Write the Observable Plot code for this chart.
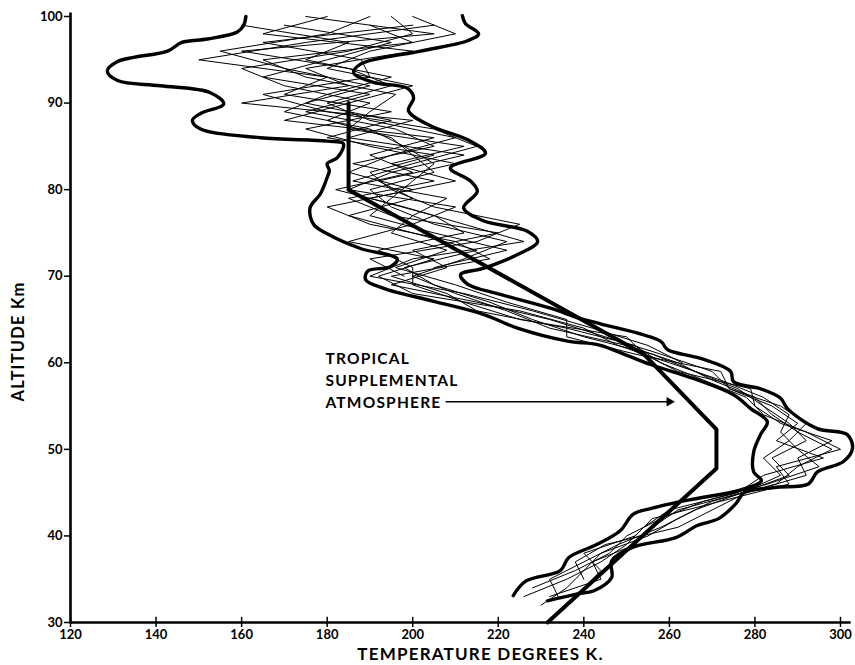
<!DOCTYPE html>
<html><head><meta charset="utf-8">
<script src="https://cdn.jsdelivr.net/npm/d3@7"></script>
<script src="https://cdn.jsdelivr.net/npm/@observablehq/plot@0.6"></script>
<style>
html,body{margin:0;padding:0;background:#fff;}
</style></head>
<body><div id="chart"></div>
<script>
// ---- tick labels & texts ----
const xTicks = [120, 140, 160, 180, 200, 220, 240, 260, 280, 300];
const yTicks = [30, 40, 50, 60, 70, 80, 90, 100];
const xLabel = "TEMPERATURE DEGREES K.";
const yLabel = "ALTITUDE Km";
const annotation = "TROPICAL\nSUPPLEMENTAL\nATMOSPHERE";
const annotationAt = [179.6, 58.1];     // temperature, altitude
const arrowFrom = [207.7, 55.5];
const arrowTo = [261.5, 55.5];

// ---- Tropical Supplemental Atmosphere ----
const stdAlt  = [30, 47.8, 52.3, 61, 80, 90];
const stdTemp = [231.5, 271, 271, 254, 185, 185];

// ---- envelope of all soundings (left / right boundary) ----
const leftEnvTemp = [161, 160.5, 159, 152, 146, 142.7, 135, 131, 128.6, 131, 141, 152.7, 155.8, 150.4, 148.5, 150.4, 164.4, 180, 183.8, 182.4, 180, 180.5, 180, 178.4, 176, 176.8, 180, 187.8, 196.4, 194.8, 189.5, 189, 193.2, 204.9, 216.5, 224.5, 236.2, 243.2, 247.9, 255.6, 265.6, 275, 279, 282.9, 281.3, 279.7, 279.7, 281.5, 276.5, 265, 256, 251.5, 248.5, 243, 236.5, 234.5, 226.5, 223.5];
const leftEnvAlt  = [100, 99, 98.2, 97.4, 97, 96, 95.3, 94.8, 93.7, 92.6, 92, 91.2, 89.9, 88.8, 88, 87, 86, 85.6, 85.3, 83.7, 83, 82.2, 81.4, 79.5, 77.9, 76, 74.9, 73.2, 72, 71.1, 70.6, 69.6, 68.6, 67.1, 65.6, 64, 62.5, 62.1, 61.3, 59.8, 58.2, 56.3, 54.7, 53.2, 51.7, 49.7, 47.4, 46.4, 45.3, 44.2, 43.2, 42.5, 40.6, 39, 37.5, 36, 34.8, 33.1];
const rightEnvTemp = [211.6, 212.3, 215.4, 212.8, 201.8, 187.8, 186.2, 190.8, 198.8, 200.2, 199, 204, 213.5, 217, 208.8, 213.5, 215.1, 211.9, 216.5, 226.8, 229.2, 224.5, 216.5, 211.2, 212.8, 220.5, 232.2, 239.2, 243.9, 257.9, 259.6, 267.3, 274.3, 275, 281.3, 286, 287.6, 294.6, 301.6, 302.8, 300.7, 294.6, 292.5, 284.5, 277.5, 275.5, 271.5, 266.5, 261.5, 251.5, 246.5, 246.5, 242.5, 238.5, 231.5];
const rightEnvAlt  = [100.1, 99.2, 98, 97.2, 96, 94.5, 93.5, 92.4, 91.7, 90.6, 89.1, 87.4, 85.6, 84.2, 82.5, 81, 79.8, 77.9, 76.4, 75.2, 74, 72.5, 70.9, 70.2, 69.1, 67.9, 66.3, 65.1, 64.5, 62.5, 61.5, 60.5, 59, 57.8, 57, 55.9, 54.7, 52.4, 51.7, 50.1, 48.6, 47.4, 46, 45.6, 45, 43.7, 42, 41.2, 39.8, 38.7, 37.1, 35.2, 33.7, 33.3, 32.5];

// ---- individual soundings (thin lines) ----
const evenAlts = [32, 34, 36, 38, 40, 42, 44, 46, 48, 50, 52, 54, 56, 58, 60, 62, 64, 66, 68, 70, 72, 74, 76, 78, 80, 82, 84, 86, 88, 90, 92, 94, 96, 98, 100];
const oddAlts  = [33, 35, 37, 39, 41, 43, 45, 47, 49, 51, 53, 55, 57, 59, 61, 63, 65, 67, 69, 71, 73, 75, 77, 79, 81, 83, 85, 87, 89, 91, 93, 95, 97, 99];

const s1 = [230, 236, 240, 244, 255, 262, 270, 285, 290, 298, 290, 284, 280, 270, 262, 250, 232, 222, 210, 200, 212, 222, 205, 195, 190, 205, 200, 195, 180, 190, 170, 160, 185, 200, 195];
const s2 = [234, 232, 240, 248, 258, 266, 277, 288, 284, 292, 288, 282, 276, 266, 256, 240, 228, 218, 205, 198, 215, 200, 185, 200, 192, 210, 190, 175, 195, 170, 180, 150, 175, 205];
const s3 = [null, 228, 238, 246, 250, 258, 268, 283, 295, 290, 286, 288, 282, 272, 260, 248, 240, 225, 200, 192, 205, 185, 200, 210, 185, 195, 212, 185, 200, 160, 185, 175, 200, 165, 180];
const s4 = [226, 236, 244, 250, 254, 260, 276, 282, 296, 285, 290, 284, 274, 270, 258, 245, 232, 215, 195, 208, 200, 220, 195, 185, 205, 186, 205, 196, 175, 190, 165, 180, 195, 170];
const s5 = [null, 240, 244, 240, 252, 256, 272, 288, 285, 300, 292, 282, 278, 268, 258, 252, 236, 215, 208, 195, 218, 210, 190, 180, 200, 185, 195, 210, 190, 180, 195, 185, 160, 205, 175];
const s6 = [null, 240, 238, 245, 262, 270, 278, 292, 290, 298, 286, 280, 279, 262, 254, 250, 225, 212, 200, 200, 192, 212, 205, 190, 210, 195, 212, 185, 190, 196, 175, 165, 200, 190];
const s7 = [null, null, null, null, null, null, null, null, null, null, null, null, null, null, 263, 255, 242, 228, 212, 190, 200, 226, 212, 198, 182, 200, 190, 205, 170, 185, 200, 180, 190, 210, 200];
const s8 = [232, 244, 242, 252, 256, 262, 277, 286, 282, 288, 292, 286, 274, 272, 252, 236, 236, 222, 210, 196, 208, 195, 200, 208, 186, 200, 215, 205, 180, 165, 190, 188, 165, 200];
const s9 = [null, null, null, null, null, null, null, null, null, null, null, null, null, null, null, null, null, null, null, 205, 222, 205, 190, 195, 200, 205, 198, 190, 170, 180, 195, 175, 185, 160];
const s10 = [null, null, null, null, null, null, null, null, null, null, null, null, null, null, null, null, null, null, null, 198, 190, 215, 225, 205, 195, 190, 205, 180, 195, 175, 190, 170, 155, 180, 190];

const soundings = [
  [evenAlts, s1], [oddAlts, s2], [evenAlts, s3], [oddAlts, s4], [evenAlts, s5],
  [oddAlts, s6], [evenAlts, s7], [oddAlts, s8], [oddAlts, s9], [evenAlts, s10]
];

// ---- build tables ----
const thin = soundings.flatMap(([alts, temps], id) =>
  alts.map((a, i) => ({id, alt: a, temp: temps[i]})).filter(d => d.temp != null));
const std = stdAlt.map((a, i) => ({alt: a, temp: stdTemp[i]}));
const envL = leftEnvAlt.map((a, i) => ({alt: a, temp: leftEnvTemp[i]}));
const envR = rightEnvAlt.map((a, i) => ({alt: a, temp: rightEnvTemp[i]}));

const font = "Lato, 'DejaVu Sans', sans-serif";

const chart = Plot.plot({
  width: 855,
  height: 665,
  marginLeft: 70,
  marginRight: 15,
  marginTop: 16,
  marginBottom: 43,
  style: {fontFamily: font, fontWeight: "bold", fontSize: "13px", color: "#000", background: "#fff"},
  x: {domain: [120, 300]},
  y: {domain: [30, 100]},
  marks: [
    // thin soundings
    Plot.line(thin, {x: "temp", y: "alt", z: "id", stroke: "#000", strokeWidth: 1, strokeLinejoin: "miter"}),
    // envelope
    Plot.line(envL, {x: "temp", y: "alt", curve: "catmull-rom", stroke: "#000", strokeWidth: 3.4}),
    Plot.line(envR, {x: "temp", y: "alt", curve: "catmull-rom", stroke: "#000", strokeWidth: 3.4}),
    // standard atmosphere
    Plot.line(std, {x: "temp", y: "alt", stroke: "#000", strokeWidth: 4}),
    // annotation
    Plot.text([annotation], {x: annotationAt[0], y: annotationAt[1], text: d => d, textAnchor: "start", lineAnchor: "middle", lineHeight: 1.4, fontSize: 15.5, fontWeight: "bold", fill: "#000"}),
    Plot.link([0], {x1: arrowFrom[0], y1: arrowFrom[1], x2: arrowTo[0] - 1.2, y2: arrowTo[1], stroke: "#000", strokeWidth: 1.3}),
    Plot.dot([0], {x: arrowTo[0] - 1.5, y: arrowTo[1], symbol: "triangle", rotate: 90, r: 3.6, fill: "#000", stroke: "none"}),
    // axes
    Plot.ruleY([30], {x1: 120, x2: 302.5, stroke: "#000", strokeWidth: 2.6}),
    Plot.ruleX([120], {y1: 29.8, y2: 100.4, stroke: "#000", strokeWidth: 2.6}),
    Plot.ruleX(xTicks, {y1: 30, y2: 30.6, stroke: "#000", strokeWidth: 1.5}),
    Plot.axisX({ticks: xTicks, tickSize: 5, tickPadding: 2, tickFormat: d => String(d), strokeWidth: 1.5, fontSize: 13, fontWeight: "bold", label: null}),
    Plot.axisY({ticks: yTicks, tickSize: 6, tickPadding: 2, tickFormat: d => String(d), strokeWidth: 1.5, fontSize: 13, fontWeight: "bold", label: null}),
    Plot.text([xLabel], {frameAnchor: "bottom", textAnchor: "middle", lineAnchor: "bottom", dx: 25, dy: 37, text: d => d, fontSize: 17, fontWeight: "bold", fill: "#000"}),
    Plot.text([yLabel], {frameAnchor: "left", textAnchor: "middle", rotate: -90, dx: -52, dy: 22, text: d => d, fontSize: 16.5, fontWeight: "bold", fill: "#000"})
  ]
});
// wider letter spacing for the titles, as in the original lettering
chart.querySelectorAll("text").forEach(t => {
  const s = t.textContent;
  if (s === xLabel || s === yLabel || s.startsWith("TROPICAL")) t.style.letterSpacing = "1.2px";
});
document.getElementById("chart").appendChild(chart);
</script>
</body></html>
